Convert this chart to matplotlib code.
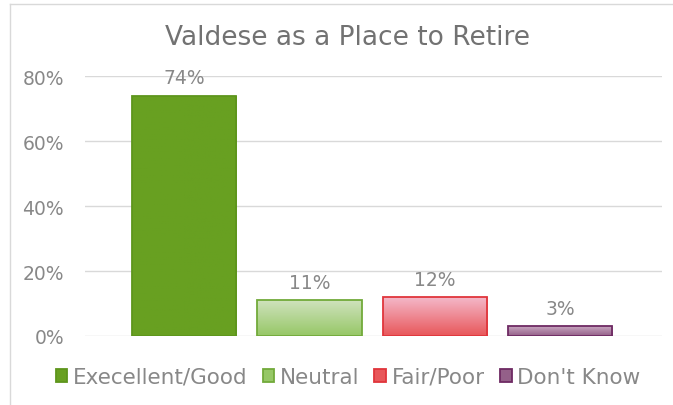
import matplotlib.pyplot as plt
import numpy as np
from matplotlib.colors import LinearSegmentedColormap
from matplotlib.patches import Patch
from matplotlib.lines import Line2D

plt.rcParams['font.family'] = ['DejaVu Sans']

categories = ['Execellent/Good', 'Neutral', 'Fair/Poor', "Don't Know"]
values = [0.74, 0.11, 0.12, 0.03]
labels = ['74%', '11%', '12%', '3%']
yticks = [0, 0.2, 0.4, 0.6, 0.8]
ytick_labels = ['0%', '20%', '40%', '60%', '80%']

# (top colour, bottom colour, edge colour)
styles = [
    ('#68a021', '#68a021', '#5e951c'),
    ('#cfe2bd', '#96c766', '#72aa3a'),
    ('#f4b8c9', '#e8575a', '#e0353b'),
    ('#c8a6c0', '#946089', '#6e2a63'),
]

fig = plt.figure(figsize=(6.73, 4.06), dpi=100)
ax = fig.add_axes([0.1263, 0.170, 0.8574, 0.640])

x = np.arange(len(categories))
width = 0.83
bars = ax.bar(x, values, width=width, color='none', zorder=3)

# vertical gradient fill inside each bar
for b, (top, bot, edge), v in zip(bars, styles, values):
    cmap = LinearSegmentedColormap.from_list('g', [bot, top])
    grad = np.linspace(0, 1, 100).reshape(-1, 1)
    x0 = b.get_x()
    im = ax.imshow(grad, extent=[x0, x0 + width, 0, v], origin='lower',
                   aspect='auto', cmap=cmap, zorder=2)
    im.set_clip_path(b)
    b.set_edgecolor(edge)
    b.set_linewidth(1.3)

for b, lab in zip(bars, labels):
    ax.annotate(lab, (b.get_x() + width / 2, b.get_height()),
                xytext=(0, 6), textcoords='offset points',
                ha='center', va='bottom', fontsize=13.5, color='#888888')

ax.set_xlim(-0.79, 3.81)
ax.set_ylim(0, 0.8)
ax.set_yticks(yticks)
ax.set_yticklabels(ytick_labels, fontsize=13.5, color='#888888')
ax.set_xticks([])
ax.tick_params(axis='y', length=0, pad=15)
ax.grid(axis='y', color='#d9d9d9', linewidth=1, zorder=0)
ax.set_axisbelow(True)
for s in ax.spines.values():
    s.set_visible(False)

fig.text(0.517, 0.906, 'Valdese as a Place to Retire', ha='center', va='center',
         fontsize=19, color='#727272')

handles = [Patch(facecolor=bot, edgecolor=edge, linewidth=1.3) for top, bot, edge in styles]
fig.legend(handles, categories, loc='center', bbox_to_anchor=(0.517, 0.069), ncol=4,
           frameon=False, fontsize=15.5, labelcolor='#888888', handlelength=0.55,
           handleheight=0.55, handletextpad=0.25, columnspacing=0.7)

# partial chart frame
fig.add_artist(Line2D([10 / 673, 10 / 673], [0, 1 - 5 / 406], color='#d9d9d9', linewidth=1))
fig.add_artist(Line2D([10 / 673, 1], [1 - 5 / 406, 1 - 5 / 406], color='#d9d9d9', linewidth=1))

fig.savefig('out.png', dpi=100)
